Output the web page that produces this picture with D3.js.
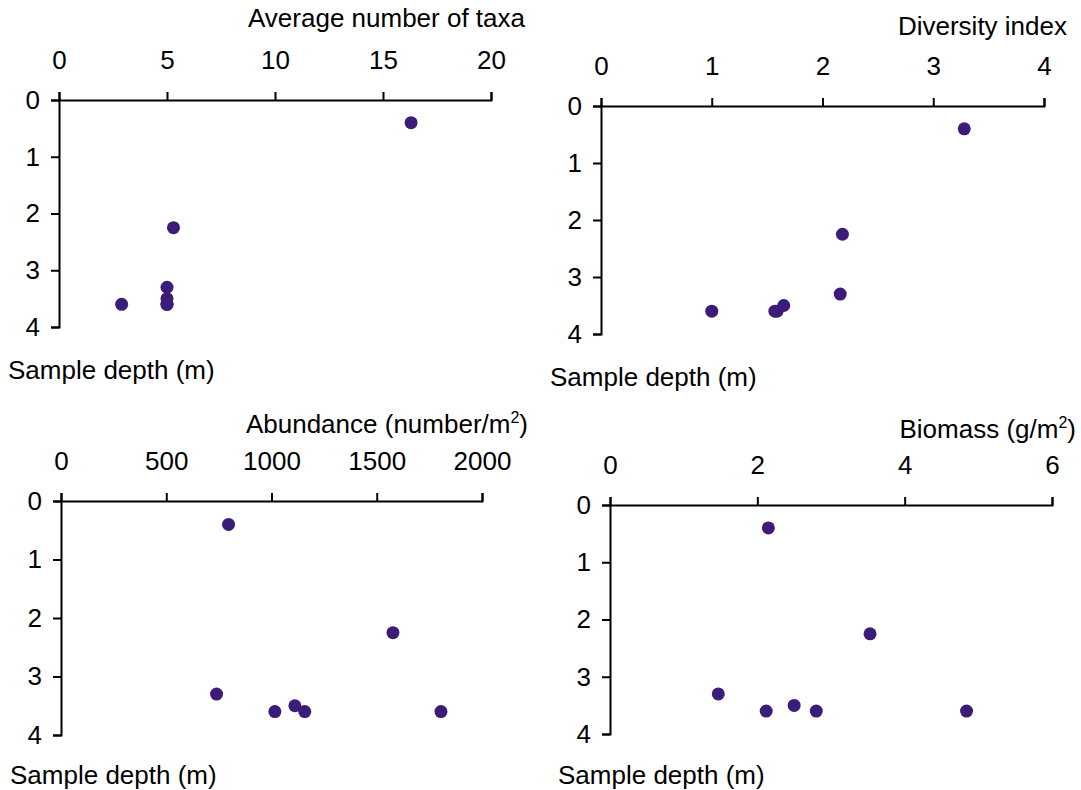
<!DOCTYPE html>
<html>
<head>
<meta charset="utf-8">
<script src="https://cdn.jsdelivr.net/npm/d3@7"></script>
<style>
  html, body { margin: 0; padding: 0; background: #fff; }
  svg { display: block; }
  text { font-family: "Liberation Sans", Arial, sans-serif; fill: #000; }
</style>
</head>
<body>
<svg id="chart" width="1081" height="790"></svg>
<script>
// Sample depth (m) for each of the seven samples
const depth = [0.4, 2.25, 3.3, 3.5, 3.6, 3.6, 3.6];

// Measured variables, one value per sample
const taxa      = [16.3, 5.3, 5.0, 5.0, 5.0, 5.0, 2.9];
const diversity = [3.28, 2.18, 2.16, 1.65, 1.57, 1.59, 1.0];
const abundance = [796, 1577, 739, 1111, 1016, 1158, 1805];
const biomass   = [2.15, 3.53, 1.47, 2.5, 2.12, 2.8, 4.84];

// Axis tick values
const depthTicks     = [0, 1, 2, 3, 4];
const taxaTicks      = [0, 5, 10, 15, 20];
const diversityTicks = [0, 1, 2, 3, 4];
const abundanceTicks = [0, 500, 1000, 1500, 2000];
const biomassTicks   = [0, 2, 4, 6];

const yLabel = "Sample depth (m)";
const dotColor = "#3b1c78";
const fontSize = 26;

// Panel layout: plot rectangle and label anchors
const panels = [
  { values: taxa, ticks: taxaTicks, max: 20,
    title: ["Average number of taxa"],
    x0: 59, x1: 491, y0: 100, y1: 327, titleX: 525, titleY: 27,
    yLabX: 8, yLabY: 379 },
  { values: diversity, ticks: diversityTicks, max: 4,
    title: ["Diversity index"],
    x0: 601, x1: 1044, y0: 106, y1: 334, titleX: 1067, titleY: 35,
    yLabX: 550, yLabY: 386 },
  { values: abundance, ticks: abundanceTicks, max: 2000,
    title: ["Abundance (number/m", "2", ")"],
    x0: 61, x1: 482, y0: 501, y1: 735, titleX: 528, titleY: 433,
    yLabX: 10, yLabY: 784 },
  { values: biomass, ticks: biomassTicks, max: 6,
    title: ["Biomass (g/m", "2", ")"],
    x0: 610, x1: 1052, y0: 505, y1: 734, titleX: 1076, titleY: 438,
    yLabX: 558, yLabY: 784 }
];

const svg = d3.select("#chart");

panels.forEach(p => {
  const x = d3.scaleLinear().domain([0, p.max]).range([p.x0, p.x1]);
  const y = d3.scaleLinear().domain([0, 4]).range([p.y0, p.y1]);
  const g = svg.append("g");

  // Value axis along the top
  const xAxis = d3.axisTop(x).tickValues(p.ticks).tickSize(8).tickPadding(23)
    .tickFormat(d3.format("d"));
  g.append("g").attr("transform", `translate(0,${p.y0})`).call(xAxis);

  // Depth axis on the left, increasing downward
  const yAxis = d3.axisLeft(y).tickValues(depthTicks).tickSize(8).tickPadding(11)
    .tickFormat(d3.format("d"));
  g.append("g").attr("transform", `translate(${p.x0},0)`).call(yAxis);

  g.selectAll(".domain, .tick line").attr("stroke", "#000").attr("stroke-width", 2);
  g.selectAll(".tick text").attr("font-size", fontSize)
    .attr("font-family", "Liberation Sans, Arial, sans-serif").attr("fill", "#000");

  // Axis title, with superscript where needed
  const t = g.append("text").attr("x", p.titleX).attr("y", p.titleY)
    .attr("text-anchor", "end").attr("font-size", fontSize);
  t.append("tspan").text(p.title[0]);
  if (p.title.length > 1) {
    t.append("tspan").attr("font-size", 16).attr("dy", -10).text(p.title[1]);
    t.append("tspan").attr("dy", 10).text(p.title[2]);
  }

  g.append("text").attr("x", p.yLabX).attr("y", p.yLabY)
    .attr("font-size", fontSize).text(yLabel);

  // Sample points
  g.selectAll("circle").data(p.values).join("circle")
    .attr("cx", d => x(d))
    .attr("cy", (d, i) => y(depth[i]))
    .attr("r", 6.5)
    .attr("fill", dotColor);
});
</script>
</body>
</html>
